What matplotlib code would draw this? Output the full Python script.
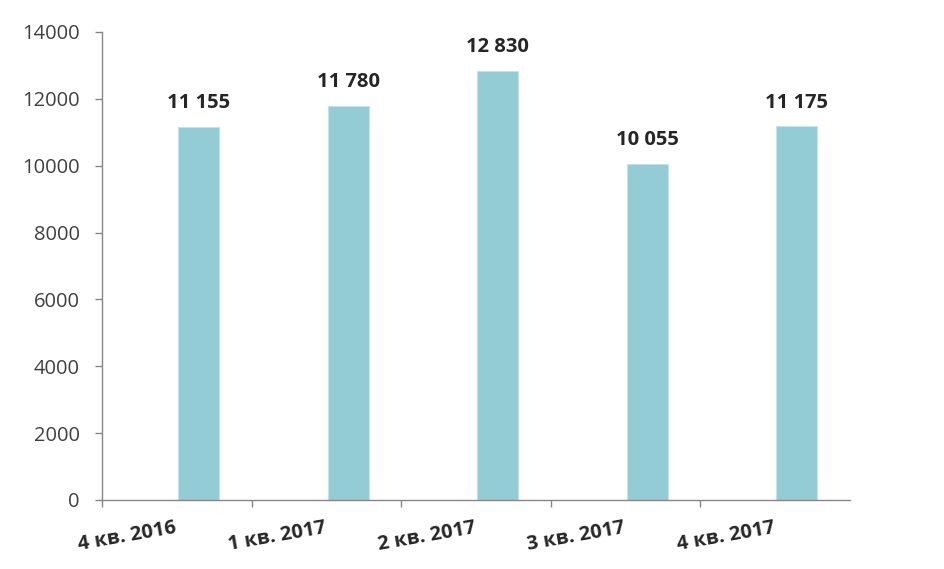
import matplotlib.pyplot as plt
import numpy as np

quarters = ["4 кв. 2016", "1 кв. 2017", "2 кв. 2017", "3 кв. 2017", "4 кв. 2017"]
values = [11155, 11780, 12830, 10055, 11175]
value_labels = ["11 155", "11 780", "12 830", "10 055", "11 175"]

plt.rcParams['font.family'] = ['Open Sans', 'DejaVu Sans']

fig = plt.figure(figsize=(9.45, 5.69), dpi=100)
ax = fig.add_axes([0.108, 0.1213, 0.7915, 0.8225])

x = np.arange(len(quarters))
ax.bar(x + 0.645, values, width=0.275, color="#93ccd4", edgecolor="#c4e3e8", linewidth=0.8)

for xi, v, lab in zip(x, values, value_labels):
    ax.annotate(lab, (xi + 0.645, v), xytext=(0, 10), textcoords="offset points",
                ha="center", va="bottom", fontsize=14.5, fontweight="bold", color="#262626")

ax.set_xlim(0, 5)
ax.set_ylim(0, 14000)
ax.set_yticks(np.arange(0, 14001, 2000))
ax.tick_params(axis="y", labelsize=14.5, labelcolor="#404040", color="#868686", length=5, width=1, pad=11)

# tick marks at category boundaries, labels shifted a bit to the right
ax.set_xticks(np.arange(0, 5), minor=True)
ax.set_xticks(x + 0.17)
ax.set_xticklabels(quarters, rotation=10, fontsize=14.5, fontweight="bold", color="#262626")
ax.tick_params(axis="x", which="major", length=0, pad=13)
ax.tick_params(axis="x", which="minor", length=5, width=1, color="#868686")

for s in ["top", "right"]:
    ax.spines[s].set_visible(False)
for s in ["left", "bottom"]:
    ax.spines[s].set_color("#868686")
    ax.spines[s].set_linewidth(1)

fig.savefig("out.png", dpi=100)
